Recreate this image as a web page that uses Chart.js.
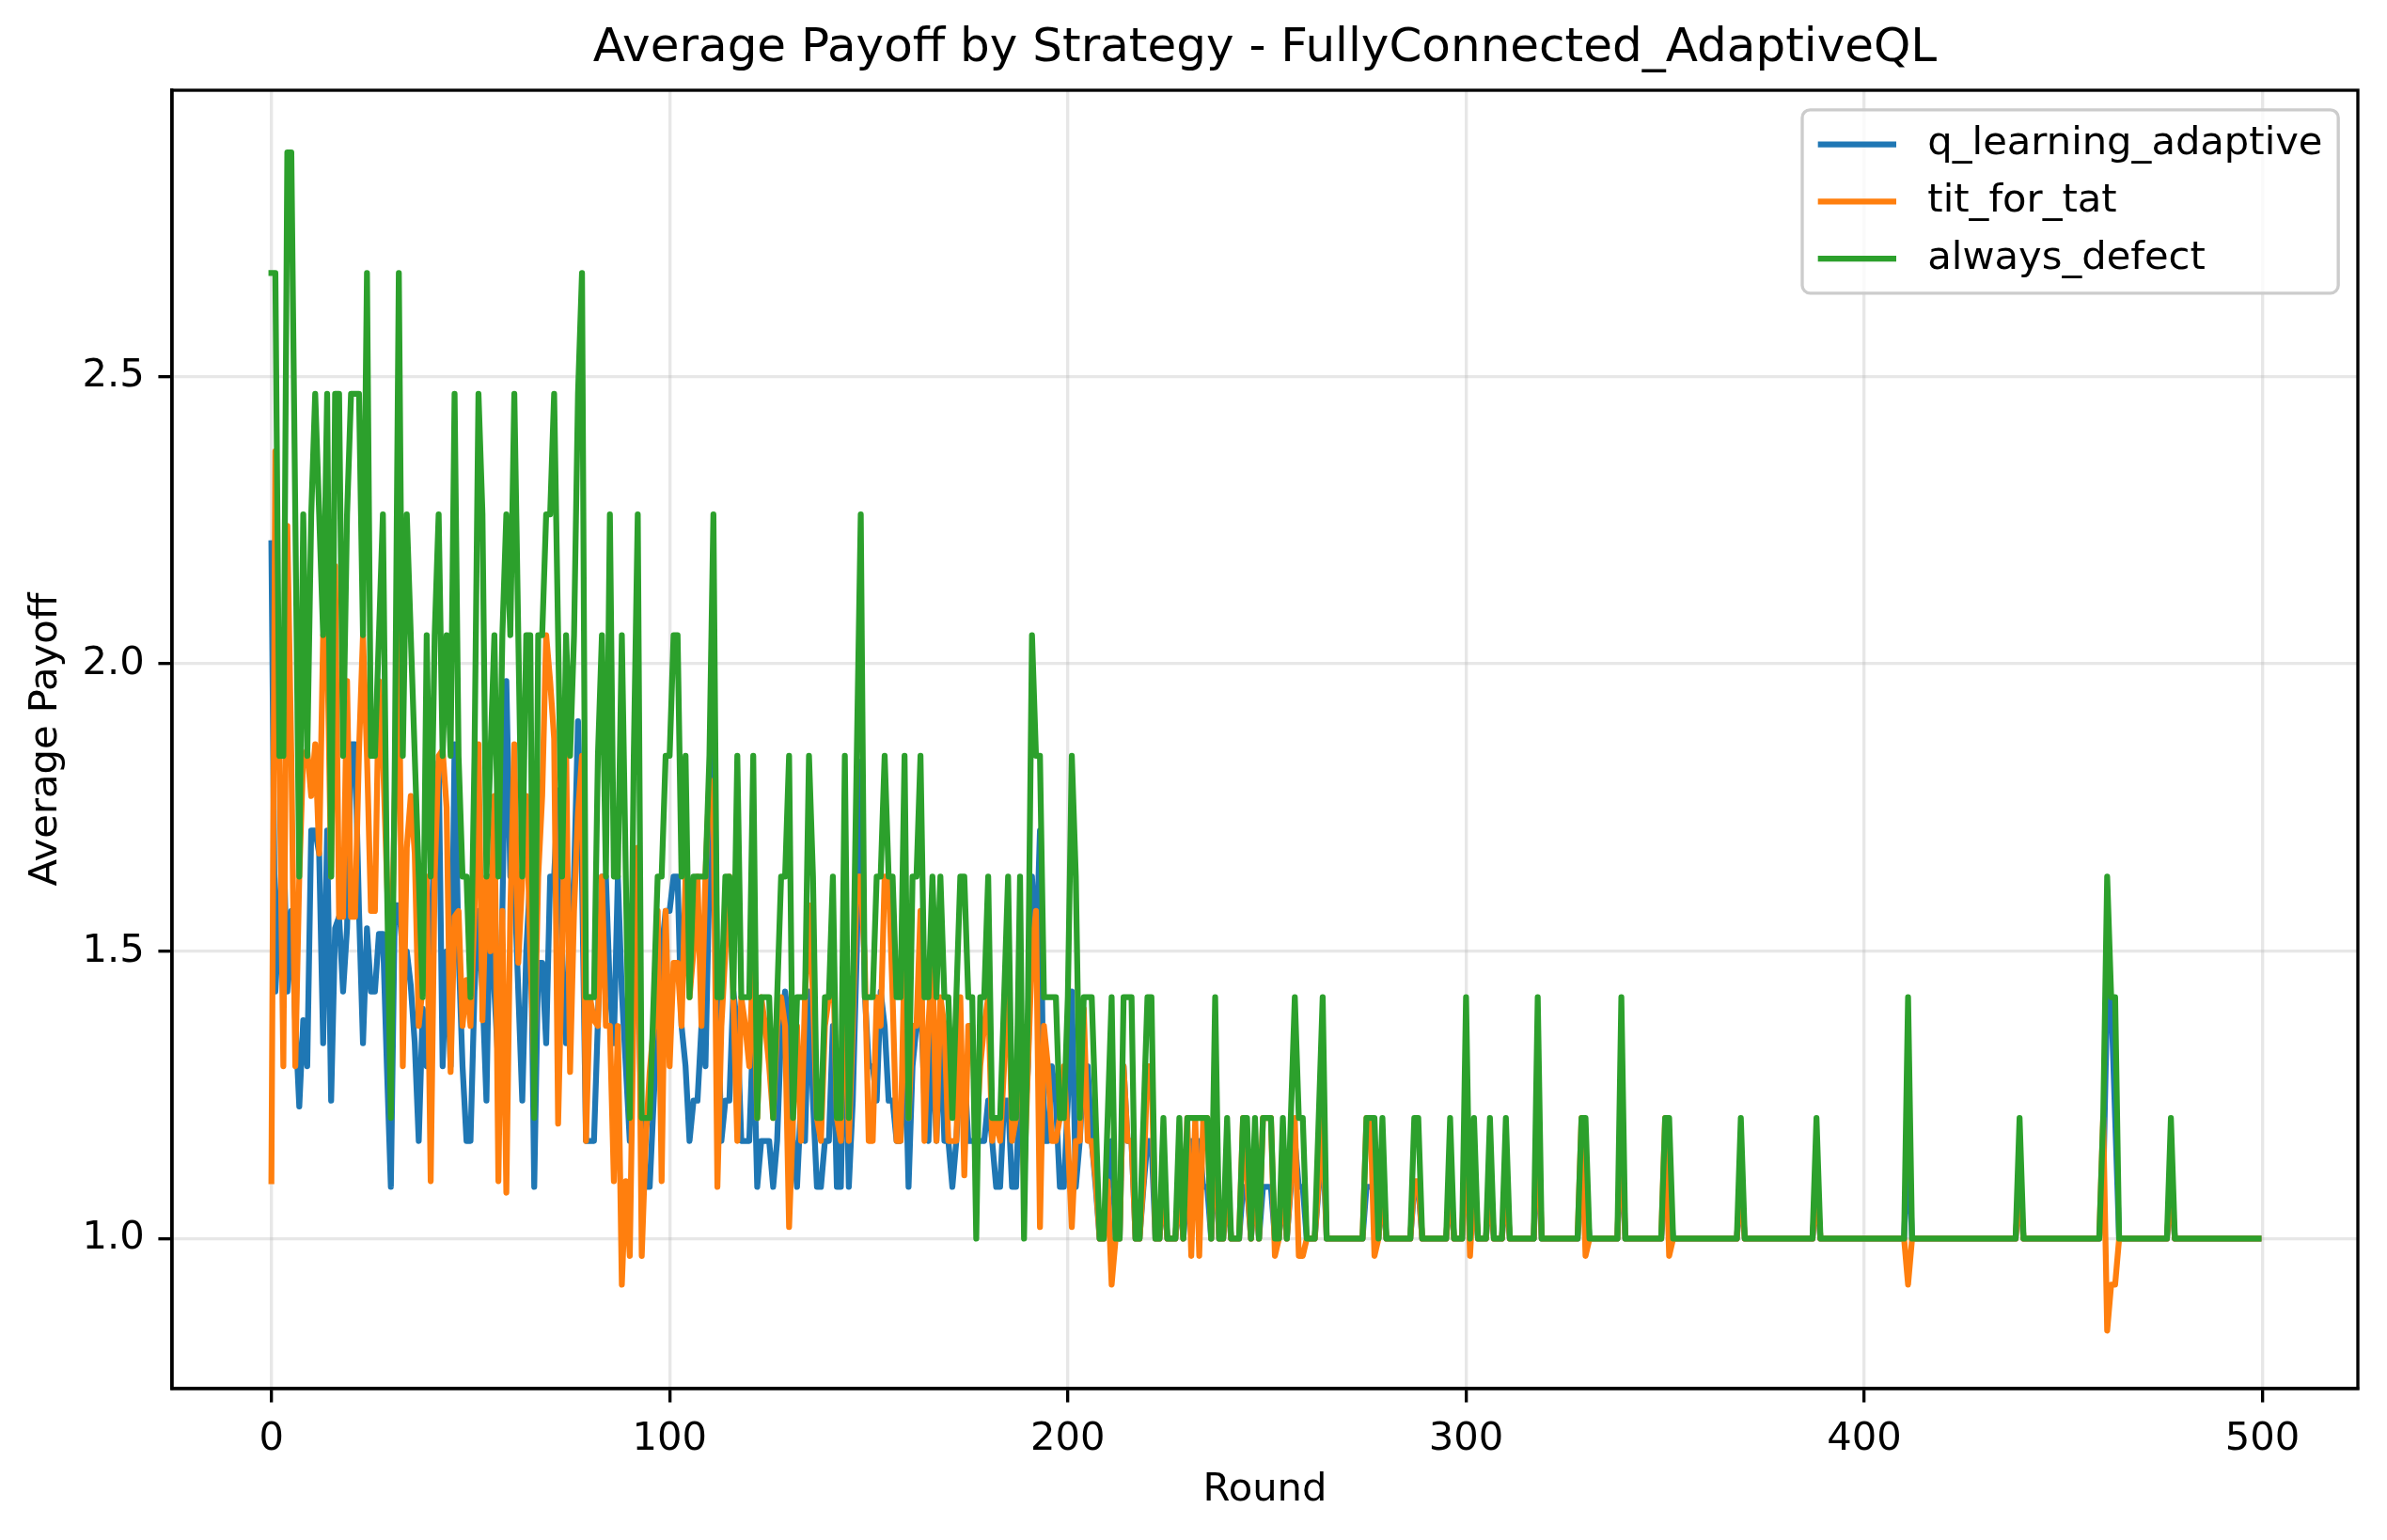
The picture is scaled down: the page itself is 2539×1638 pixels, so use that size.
<!DOCTYPE html>
<html>
<head>
<meta charset="utf-8">
<script src="https://cdn.jsdelivr.net/npm/chart.js@4.4.1/dist/chart.umd.min.js"></script>
<style>
html,body{margin:0;padding:0;background:#ffffff;}
#wrap{width:2539px;height:1638px;}
</style>
</head>
<body>
<div id="wrap"><canvas id="c" width="2539" height="1638"></canvas></div>
<script>
// ---- data -------------------------------------------------------------
const rounds = Array.from({length: 500}, (_, i) => i);

const qLearningAdaptive = [
2.21,1.43,1.57,1.71,1.43,1.57,1.38,1.23,1.38,1.30,
1.71,1.71,1.67,1.34,1.71,1.24,1.54,1.56,1.43,1.54,
1.86,1.86,1.57,1.34,1.54,1.43,1.43,1.53,1.53,1.30,
1.09,1.58,1.58,1.50,1.50,1.44,1.34,1.17,1.40,1.30,
1.50,1.71,1.83,1.30,1.50,1.30,1.86,1.50,1.30,1.17,
1.17,1.43,1.57,1.43,1.24,1.63,1.43,1.30,1.57,1.97,
1.63,1.63,1.43,1.24,1.50,1.63,1.09,1.48,1.48,1.34,
1.63,1.63,1.78,1.50,1.34,1.50,1.63,1.90,1.63,1.17,
1.17,1.17,1.38,1.63,1.63,1.43,1.34,1.63,1.43,1.30,
1.17,1.43,1.50,1.17,1.09,1.09,1.24,1.38,1.50,1.57,
1.57,1.63,1.63,1.37,1.30,1.17,1.24,1.24,1.37,1.30,
1.63,1.97,1.43,1.17,1.24,1.24,1.43,1.37,1.17,1.17,
1.17,1.37,1.09,1.17,1.17,1.17,1.09,1.17,1.36,1.43,
1.37,1.17,1.09,1.24,1.17,1.43,1.24,1.09,1.09,1.17,
1.17,1.37,1.09,1.09,1.43,1.09,1.24,1.50,1.83,1.43,
1.30,1.30,1.24,1.43,1.37,1.24,1.24,1.17,1.17,1.37,
1.09,1.30,1.37,1.43,1.24,1.17,1.37,1.17,1.37,1.17,
1.17,1.09,1.17,1.30,1.30,1.17,1.17,1.17,1.17,1.17,
1.24,1.17,1.09,1.09,1.24,1.24,1.09,1.09,1.30,1.17,
1.30,1.63,1.48,1.71,1.17,1.17,1.30,1.24,1.09,1.09,
1.24,1.43,1.09,1.17,1.30,1.30,1.17,1.09,1.00,1.00,
1.09,1.17,1.00,1.00,1.30,1.17,1.17,1.00,1.00,1.09,
1.17,1.17,1.00,1.00,1.09,1.00,1.00,1.00,1.09,1.00,
1.09,1.17,1.09,1.17,1.09,1.09,1.00,1.17,1.00,1.00,
1.09,1.00,1.00,1.00,1.09,1.09,1.00,1.09,1.00,1.09,
1.09,1.09,1.00,1.00,1.09,1.00,1.09,1.17,1.09,1.09,
1.00,1.00,1.00,1.09,1.17,1.00,1.00,1.00,1.00,1.00,
1.00,1.00,1.00,1.00,1.00,1.09,1.09,1.09,1.00,1.09,
1.00,1.00,1.00,1.00,1.00,1.00,1.00,1.09,1.09,1.00,
1.00,1.00,1.00,1.00,1.00,1.00,1.09,1.00,1.00,1.00,
1.17,1.00,1.09,1.00,1.00,1.00,1.09,1.00,1.00,1.00,
1.09,1.00,1.00,1.00,1.00,1.00,1.00,1.00,1.17,1.00,
1.00,1.00,1.00,1.00,1.00,1.00,1.00,1.00,1.00,1.09,
1.09,1.00,1.00,1.00,1.00,1.00,1.00,1.00,1.00,1.17,
1.00,1.00,1.00,1.00,1.00,1.00,1.00,1.00,1.00,1.00,
1.09,1.09,1.00,1.00,1.00,1.00,1.00,1.00,1.00,1.00,
1.00,1.00,1.00,1.00,1.00,1.00,1.00,1.00,1.00,1.09,
1.00,1.00,1.00,1.00,1.00,1.00,1.00,1.00,1.00,1.00,
1.00,1.00,1.00,1.00,1.00,1.00,1.00,1.00,1.09,1.00,
1.00,1.00,1.00,1.00,1.00,1.00,1.00,1.00,1.00,1.00,
1.00,1.00,1.00,1.00,1.00,1.00,1.00,1.00,1.00,1.00,
1.00,1.17,1.00,1.00,1.00,1.00,1.00,1.00,1.00,1.00,
1.00,1.00,1.00,1.00,1.00,1.00,1.00,1.00,1.00,1.00,
1.00,1.00,1.00,1.00,1.00,1.00,1.00,1.00,1.00,1.09,
1.00,1.00,1.00,1.00,1.00,1.00,1.00,1.00,1.00,1.00,
1.00,1.00,1.00,1.00,1.00,1.00,1.00,1.00,1.00,1.00,
1.09,1.42,1.42,1.21,1.00,1.00,1.00,1.00,1.00,1.00,
1.00,1.00,1.00,1.00,1.00,1.00,1.00,1.09,1.00,1.00,
1.00,1.00,1.00,1.00,1.00,1.00,1.00,1.00,1.00,1.00,
1.00,1.00,1.00,1.00,1.00,1.00,1.00,1.00,1.00,1.00
];

const titForTat = [
1.10,2.37,1.84,1.30,2.24,1.84,1.30,1.63,1.84,1.85,
1.77,1.86,1.67,2.05,2.05,1.63,2.17,1.56,1.56,1.97,
1.56,1.56,1.85,2.05,1.84,1.57,1.57,1.97,1.84,1.63,
1.43,1.77,2.07,1.30,1.68,1.77,1.67,1.37,1.44,1.63,
1.10,1.63,1.84,1.85,1.75,1.29,1.56,1.57,1.37,1.45,
1.37,1.57,1.86,1.38,1.63,1.50,1.77,1.10,1.57,1.08,
1.57,1.86,1.48,1.63,1.77,1.50,1.30,1.63,1.77,2.05,
1.97,1.87,1.20,1.50,1.86,1.29,1.57,1.74,1.84,1.17,
1.42,1.38,1.37,1.63,1.37,1.37,1.10,1.37,0.92,1.10,
0.97,1.42,1.68,0.97,1.17,1.29,1.37,1.57,1.10,1.57,
1.30,1.48,1.48,1.37,1.63,1.42,1.50,1.63,1.37,1.63,
1.80,1.77,1.09,1.37,1.50,1.63,1.42,1.17,1.42,1.37,
1.30,1.50,1.21,1.42,1.37,1.30,1.21,1.37,1.42,1.37,
1.02,1.21,1.37,1.17,1.42,1.58,1.42,1.21,1.17,1.37,
1.42,1.50,1.21,1.17,1.50,1.17,1.37,1.63,1.63,1.48,
1.17,1.17,1.42,1.37,1.63,1.63,1.42,1.17,1.17,1.50,
1.21,1.37,1.37,1.57,1.17,1.37,1.50,1.17,1.42,1.37,
1.17,1.17,1.17,1.42,1.11,1.37,1.37,1.17,1.30,1.37,
1.42,1.17,1.21,1.17,1.30,1.50,1.17,1.21,1.42,1.10,
1.30,1.50,1.57,1.02,1.37,1.30,1.17,1.17,1.21,1.30,
1.17,1.02,1.17,1.17,1.40,1.17,1.17,1.10,1.00,1.00,
1.10,0.92,1.00,1.00,1.30,1.17,1.17,1.00,1.00,1.10,
1.30,1.30,1.00,1.00,1.10,1.00,1.00,1.00,1.10,1.00,
1.21,0.97,1.21,0.97,1.21,1.21,1.00,1.21,1.00,1.00,
1.10,1.00,1.00,1.00,1.21,1.10,1.00,1.10,1.00,1.21,
1.21,1.21,0.97,1.00,1.10,1.00,1.10,1.21,0.97,0.97,
1.00,1.00,1.00,1.10,1.21,1.00,1.00,1.00,1.00,1.00,
1.00,1.00,1.00,1.00,1.00,1.21,1.21,0.97,1.00,1.10,
1.00,1.00,1.00,1.00,1.00,1.00,1.00,1.10,1.10,1.00,
1.00,1.00,1.00,1.00,1.00,1.00,1.10,1.00,1.00,1.00,
1.21,0.97,1.10,1.00,1.00,1.00,1.10,1.00,1.00,1.00,
1.10,1.00,1.00,1.00,1.00,1.00,1.00,1.00,1.21,1.00,
1.00,1.00,1.00,1.00,1.00,1.00,1.00,1.00,1.00,1.21,
0.97,1.00,1.00,1.00,1.00,1.00,1.00,1.00,1.00,1.21,
1.00,1.00,1.00,1.00,1.00,1.00,1.00,1.00,1.00,1.00,
1.21,0.97,1.00,1.00,1.00,1.00,1.00,1.00,1.00,1.00,
1.00,1.00,1.00,1.00,1.00,1.00,1.00,1.00,1.00,1.10,
1.00,1.00,1.00,1.00,1.00,1.00,1.00,1.00,1.00,1.00,
1.00,1.00,1.00,1.00,1.00,1.00,1.00,1.00,1.10,1.00,
1.00,1.00,1.00,1.00,1.00,1.00,1.00,1.00,1.00,1.00,
1.00,1.00,1.00,1.00,1.00,1.00,1.00,1.00,1.00,1.00,
1.00,0.92,1.00,1.00,1.00,1.00,1.00,1.00,1.00,1.00,
1.00,1.00,1.00,1.00,1.00,1.00,1.00,1.00,1.00,1.00,
1.00,1.00,1.00,1.00,1.00,1.00,1.00,1.00,1.00,1.10,
1.00,1.00,1.00,1.00,1.00,1.00,1.00,1.00,1.00,1.00,
1.00,1.00,1.00,1.00,1.00,1.00,1.00,1.00,1.00,1.00,
1.21,0.84,0.92,0.92,1.00,1.00,1.00,1.00,1.00,1.00,
1.00,1.00,1.00,1.00,1.00,1.00,1.00,1.10,1.00,1.00,
1.00,1.00,1.00,1.00,1.00,1.00,1.00,1.00,1.00,1.00,
1.00,1.00,1.00,1.00,1.00,1.00,1.00,1.00,1.00,1.00
];

const alwaysDefect = [
2.68,2.68,1.84,1.84,2.89,2.89,2.26,1.63,2.26,1.84,
2.26,2.47,2.26,2.05,2.47,1.63,2.47,2.47,1.84,2.26,
2.47,2.47,2.47,2.05,2.68,1.84,1.84,2.05,2.26,1.63,
1.21,1.84,2.68,1.84,2.26,2.05,1.84,1.63,1.42,2.05,
1.63,2.05,2.26,1.84,2.05,1.84,2.47,1.84,1.63,1.63,
1.42,1.84,2.47,2.26,1.63,1.84,2.05,1.63,2.05,2.26,
2.05,2.47,2.05,1.63,2.05,2.05,1.21,2.05,2.05,2.26,
2.26,2.47,2.05,1.63,2.05,1.84,2.05,2.47,2.68,1.42,
1.42,1.42,1.84,2.05,1.63,2.26,1.63,1.63,2.05,1.63,
1.21,1.84,2.26,1.21,1.21,1.21,1.42,1.63,1.63,1.84,
1.84,2.05,2.05,1.63,1.84,1.42,1.63,1.63,1.63,1.63,
1.84,2.26,1.42,1.42,1.63,1.63,1.42,1.84,1.42,1.42,
1.42,1.84,1.21,1.42,1.42,1.42,1.21,1.42,1.63,1.63,
1.84,1.21,1.42,1.42,1.42,1.84,1.63,1.21,1.21,1.42,
1.42,1.63,1.21,1.21,1.84,1.21,1.42,1.84,2.26,1.42,
1.42,1.42,1.63,1.63,1.84,1.63,1.63,1.42,1.42,1.84,
1.21,1.63,1.63,1.84,1.42,1.42,1.63,1.42,1.63,1.42,
1.42,1.21,1.42,1.63,1.63,1.42,1.42,1.00,1.42,1.42,
1.63,1.21,1.21,1.21,1.42,1.63,1.21,1.21,1.63,1.00,
1.42,2.05,1.84,1.84,1.42,1.42,1.42,1.42,1.21,1.21,
1.42,1.84,1.63,1.21,1.42,1.42,1.42,1.21,1.00,1.00,
1.21,1.42,1.00,1.00,1.42,1.42,1.42,1.00,1.00,1.21,
1.42,1.42,1.00,1.00,1.21,1.00,1.00,1.00,1.21,1.00,
1.21,1.21,1.21,1.21,1.21,1.21,1.00,1.42,1.00,1.00,
1.21,1.00,1.00,1.00,1.21,1.21,1.00,1.21,1.00,1.21,
1.21,1.21,1.00,1.00,1.21,1.00,1.21,1.42,1.21,1.21,
1.00,1.00,1.00,1.21,1.42,1.00,1.00,1.00,1.00,1.00,
1.00,1.00,1.00,1.00,1.00,1.21,1.21,1.21,1.00,1.21,
1.00,1.00,1.00,1.00,1.00,1.00,1.00,1.21,1.21,1.00,
1.00,1.00,1.00,1.00,1.00,1.00,1.21,1.00,1.00,1.00,
1.42,1.00,1.21,1.00,1.00,1.00,1.21,1.00,1.00,1.00,
1.21,1.00,1.00,1.00,1.00,1.00,1.00,1.00,1.42,1.00,
1.00,1.00,1.00,1.00,1.00,1.00,1.00,1.00,1.00,1.21,
1.21,1.00,1.00,1.00,1.00,1.00,1.00,1.00,1.00,1.42,
1.00,1.00,1.00,1.00,1.00,1.00,1.00,1.00,1.00,1.00,
1.21,1.21,1.00,1.00,1.00,1.00,1.00,1.00,1.00,1.00,
1.00,1.00,1.00,1.00,1.00,1.00,1.00,1.00,1.00,1.21,
1.00,1.00,1.00,1.00,1.00,1.00,1.00,1.00,1.00,1.00,
1.00,1.00,1.00,1.00,1.00,1.00,1.00,1.00,1.21,1.00,
1.00,1.00,1.00,1.00,1.00,1.00,1.00,1.00,1.00,1.00,
1.00,1.00,1.00,1.00,1.00,1.00,1.00,1.00,1.00,1.00,
1.00,1.42,1.00,1.00,1.00,1.00,1.00,1.00,1.00,1.00,
1.00,1.00,1.00,1.00,1.00,1.00,1.00,1.00,1.00,1.00,
1.00,1.00,1.00,1.00,1.00,1.00,1.00,1.00,1.00,1.21,
1.00,1.00,1.00,1.00,1.00,1.00,1.00,1.00,1.00,1.00,
1.00,1.00,1.00,1.00,1.00,1.00,1.00,1.00,1.00,1.00,
1.21,1.63,1.42,1.42,1.00,1.00,1.00,1.00,1.00,1.00,
1.00,1.00,1.00,1.00,1.00,1.00,1.00,1.21,1.00,1.00,
1.00,1.00,1.00,1.00,1.00,1.00,1.00,1.00,1.00,1.00,
1.00,1.00,1.00,1.00,1.00,1.00,1.00,1.00,1.00,1.00
];

const seriesNames = ['q_learning_adaptive', 'tit_for_tat', 'always_defect'];
const seriesColors = ['#1f77b4', '#ff7f0e', '#2ca02c'];
const xTicks = [0, 100, 200, 300, 400, 500];
const yTicks = [1.0, 1.5, 2.0, 2.5];
const chartTitle = 'Average Payoff by Strategy - FullyConnected_AdaptiveQL';
const xLabel = 'Round';
const yLabel = 'Average Payoff';

// ---- styling ----------------------------------------------------------
const PT = 300 / 72;
const FONT = "'DejaVu Sans', 'Liberation Sans', sans-serif";
const TICK_FS = 10 * PT;
const TITLE_FS = 12 * PT;
const GRID_COLOR = 'rgba(176,176,176,0.3)';

const seriesValues = [qLearningAdaptive, titForTat, alwaysDefect];
const datasets = seriesValues.map((arr, i) => ({
  label: seriesNames[i],
  data: arr.map((v, k) => ({x: rounds[k], y: v})),
  borderColor: seriesColors[i],
  backgroundColor: seriesColors[i],
  borderWidth: 1.5 * PT,
  pointRadius: 0,
  pointHoverRadius: 0,
  tension: 0,
  fill: false,
  borderJoinStyle: 'round',
  borderCapStyle: 'square',
  order: 3 - i
}));

const framePlugin = {
  id: 'mplFrame',
  afterDatasetsDraw(chart) {
    const {ctx, chartArea: a} = chart;
    ctx.save();
    ctx.strokeStyle = '#000';
    ctx.lineWidth = 0.8 * PT;
    ctx.strokeRect(a.left, a.top, a.right - a.left, a.bottom - a.top);
    ctx.restore();

    // legend (upper right, matplotlib style)
    const fs = TICK_FS;
    ctx.save();
    ctx.font = fs + 'px ' + FONT;
    const labels = chart.data.datasets.map(d => d.label);
    const tw = Math.max(...labels.map(l => ctx.measureText(l).width));
    const bp = 0.4 * fs, hl = 2 * fs, htp = 0.8 * fs, ls = 0.5 * fs, rowH = 0.96 * fs;
    const pad = 0.5 * fs;
    const w = 2 * bp + hl + htp + tw;
    const h = 2 * bp + labels.length * rowH + (labels.length - 1) * ls;
    const x0 = a.right - pad - w, y0 = a.top + pad;
    const r = 0.2 * fs;
    ctx.beginPath();
    ctx.moveTo(x0 + r, y0);
    ctx.lineTo(x0 + w - r, y0);
    ctx.arcTo(x0 + w, y0, x0 + w, y0 + r, r);
    ctx.lineTo(x0 + w, y0 + h - r);
    ctx.arcTo(x0 + w, y0 + h, x0 + w - r, y0 + h, r);
    ctx.lineTo(x0 + r, y0 + h);
    ctx.arcTo(x0, y0 + h, x0, y0 + h - r, r);
    ctx.lineTo(x0, y0 + r);
    ctx.arcTo(x0, y0, x0 + r, y0, r);
    ctx.closePath();
    ctx.fillStyle = 'rgba(255,255,255,0.8)';
    ctx.fill();
    ctx.strokeStyle = '#cccccc';
    ctx.lineWidth = 0.8 * PT;
    ctx.stroke();
    chart.data.datasets.forEach((d, i) => {
      const cy = y0 + bp + rowH / 2 + i * (rowH + ls);
      ctx.strokeStyle = d.borderColor;
      ctx.lineWidth = 1.5 * PT;
      ctx.lineCap = 'butt';
      ctx.beginPath();
      ctx.moveTo(x0 + bp, cy);
      ctx.lineTo(x0 + bp + hl, cy);
      ctx.stroke();
      ctx.fillStyle = '#000';
      ctx.textBaseline = 'middle';
      ctx.textAlign = 'left';
      ctx.fillText(d.label, x0 + bp + hl + htp, cy);
    });
    ctx.restore();
  }
};

new Chart(document.getElementById('c'), {
  type: 'line',
  data: {datasets},
  plugins: [framePlugin],
  options: {
    responsive: false,
    devicePixelRatio: 1,
    animation: false,
    events: [],
    layout: {padding: {left: 0, right: 31, top: 0, bottom: 0}},
    plugins: {
      legend: {display: false},
      tooltip: {enabled: false},
      title: {
        display: true,
        text: chartTitle,
        color: '#000',
        fullSize: false,
        font: {family: FONT, size: TITLE_FS, weight: 'normal', lineHeight: 1.2},
        padding: {top: 22, bottom: 14}
      }
    },
    scales: {
      x: {
        type: 'linear',
        min: -24.95,
        max: 523.95,
        afterBuildTicks: s => { s.ticks = xTicks.map(v => ({value: v})); },
        afterFit: s => { s.height = 161; },
        ticks: {
          color: '#000',
          font: {family: FONT, size: TICK_FS},
          padding: 3.5 * PT,
          maxRotation: 0,
          autoSkip: false,
          callback: v => String(v)
        },
        grid: {
          color: GRID_COLOR,
          lineWidth: 0.8 * PT,
          tickColor: '#000',
          tickWidth: 0.8 * PT,
          tickLength: 3.5 * PT
        },
        border: {display: true, color: '#000', width: 0.8 * PT},
        title: {
          display: true, text: xLabel, color: '#000',
          font: {family: FONT, size: TICK_FS, lineHeight: 1.2},
          padding: {top: 0, bottom: 28}
        }
      },
      y: {
        type: 'linear',
        min: 0.739,
        max: 2.998,
        afterBuildTicks: s => { s.ticks = yTicks.map(v => ({value: v})); },
        afterFit: s => { s.width = 183; },
        ticks: {
          color: '#000',
          font: {family: FONT, size: TICK_FS},
          padding: 3.5 * PT,
          autoSkip: false,
          callback: v => Number(v).toFixed(1)
        },
        grid: {
          color: GRID_COLOR,
          lineWidth: 0.8 * PT,
          tickColor: '#000',
          tickWidth: 0.8 * PT,
          tickLength: 3.5 * PT
        },
        border: {display: true, color: '#000', width: 0.8 * PT},
        title: {
          display: true, text: yLabel, color: '#000',
          font: {family: FONT, size: TICK_FS, lineHeight: 1.2},
          padding: {top: 24, bottom: 0}
        }
      }
    }
  }
});
</script>
</body>
</html>
